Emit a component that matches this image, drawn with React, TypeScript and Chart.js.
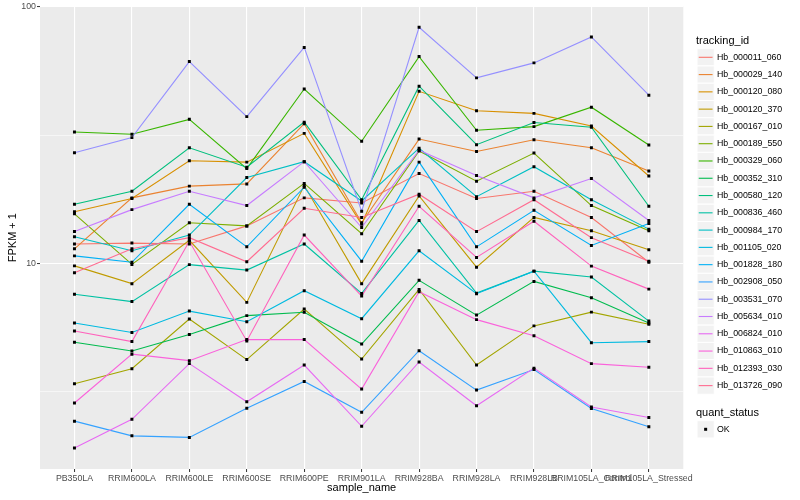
import React, { useEffect, useRef } from "react";
import { Chart, registerables } from "chart.js";

Chart.register(...registerables);

const FONT = '"Liberation Sans", Arial, Helvetica, sans-serif';

const categories = [
  "PB350LA",
  "RRIM600LA",
  "RRIM600LE",
  "RRIM600SE",
  "RRIM600PE",
  "RRIM901LA",
  "RRIM928BA",
  "RRIM928LA",
  "RRIM928LB",
  "RRIM105LA_Control",
  "RRIM105LA_Stressed",
];

const trackingIds = [
  "Hb_000011_060",
  "Hb_000029_140",
  "Hb_000120_080",
  "Hb_000120_370",
  "Hb_000167_010",
  "Hb_000189_550",
  "Hb_000329_060",
  "Hb_000352_310",
  "Hb_000580_120",
  "Hb_000836_460",
  "Hb_000984_170",
  "Hb_001105_020",
  "Hb_001828_180",
  "Hb_002908_050",
  "Hb_003531_070",
  "Hb_005634_010",
  "Hb_006824_010",
  "Hb_010863_010",
  "Hb_012393_030",
  "Hb_013726_090",
];

const seriesColors = [
  "#F8766D", "#EA8331", "#D89000", "#C09B00", "#A3A500",
  "#7CAE00", "#39B600", "#00BB4E", "#00BF7D", "#00C1A3",
  "#00BFC4", "#00BAE0", "#00B0F6", "#35A2FF", "#9590FF",
  "#C77CFF", "#E76BF3", "#FA62DB", "#FF62BC", "#FF6C91",
];

// FPKM + 1 per sample (order of categories)
const hb_000011_060 = [11.9, 12.0, 11.9, 14.0, 18.0, 17.2, 22.4, 17.9, 19.1, 15.1, 10.1];
const hb_000029_140 = [11.4, 18.0, 20.0, 20.4, 35.0, 14.4, 30.5, 27.3, 30.3, 28.2, 22.9];
const hb_000120_080 = [15.9, 17.9, 25.1, 24.8, 32.1, 14.2, 46.8, 39.3, 38.4, 34.3, 21.9];
const hb_000120_370 = [9.78, 8.34, 12.3, 7.05, 20.1, 8.34, 18.3, 9.67, 15.1, 13.4, 11.3];
const hb_000167_010 = [3.4, 3.89, 6.07, 4.22, 6.64, 4.24, 7.92, 4.02, 5.71, 6.46, 5.79];
const hb_000189_550 = [15.6, 9.91, 14.4, 14.0, 20.5, 13.05, 27.4, 20.9, 26.9, 16.8, 13.4];
const hb_000329_060 = [32.5, 31.85, 36.4, 23.4, 47.8, 29.9, 63.9, 33.0, 34.1, 40.6, 28.9];
const hb_000352_310 = [4.93, 4.56, 5.29, 6.26, 6.45, 4.85, 8.59, 6.29, 8.51, 7.35, 5.86];
const hb_000580_120 = [17.0, 19.1, 28.2, 23.7, 35.5, 17.7, 49.0, 29.0, 35.4, 33.9, 16.7];
const hb_000836_460 = [7.58, 7.1, 9.89, 9.42, 11.9, 7.64, 14.7, 7.66, 9.33, 8.85, 5.96];
const hb_000984_170 = [12.7, 11.2, 12.9, 21.6, 24.9, 17.5, 28.1, 18.2, 23.8, 17.7, 13.6];
const hb_001105_020 = [5.86, 5.38, 6.52, 5.93, 7.83, 6.09, 11.2, 7.62, 9.33, 4.91, 4.96];
const hb_001828_180 = [10.7, 10.1, 17.0, 11.6, 19.8, 10.2, 24.8, 11.6, 16.1, 11.75, 14.3];
const hb_002908_050 = [2.43, 2.13, 2.1, 2.73, 3.47, 2.63, 4.57, 3.21, 3.86, 2.72, 2.31];
const hb_003531_070 = [27.0, 30.9, 61.1, 37.3, 69.4, 15.98, 83.1, 52.8, 60.4, 76.2, 45.2];
const hb_005634_010 = [13.3, 16.2, 19.1, 16.8, 24.9, 13.8, 27.6, 22.0, 18.0, 21.4, 14.7];
const hb_006824_010 = [1.91, 2.47, 4.07, 2.89, 4.02, 2.32, 4.13, 2.79, 3.91, 2.76, 2.51];
const hb_010863_010 = [2.86, 4.43, 4.18, 5.05, 5.05, 3.24, 7.75, 6.04, 5.23, 4.07, 3.94];
const hb_012393_030 = [5.45, 4.96, 12.2, 4.99, 12.9, 7.46, 16.7, 10.55, 14.6, 9.76, 7.94];
const hb_013726_090 = [9.2, 11.4, 12.6, 10.15, 16.4, 15.1, 18.6, 13.3, 17.7, 12.6, 10.2];

const seriesValues = [
  hb_000011_060, hb_000029_140, hb_000120_080, hb_000120_370, hb_000167_010,
  hb_000189_550, hb_000329_060, hb_000352_310, hb_000580_120, hb_000836_460,
  hb_000984_170, hb_001105_020, hb_001828_180, hb_002908_050, hb_003531_070,
  hb_005634_010, hb_006824_010, hb_010863_010, hb_012393_030, hb_013726_090,
];

const yMajorTicks = [10, 100];
const yMinorTicks = [3.1623, 31.623];
const yMin = 1.582;
const yMax = 100.35;

const isMajor = (v: number) => yMajorTicks.includes(v);

export default function App() {
  const ref = useRef<HTMLCanvasElement>(null);

  useEffect(() => {
    const canvas = ref.current;
    if (!canvas) return;

    const lineSets = seriesValues.map((vals, i) => ({
      label: trackingIds[i],
      data: vals.map((v, j) => ({ x: j, y: v })),
      borderColor: seriesColors[i],
      backgroundColor: seriesColors[i],
      borderWidth: 1.1,
      pointRadius: 0,
      pointHoverRadius: 0,
      fill: false,
      tension: 0,
      order: 100 - i,
    }));

    const pointSet = {
      label: "OK",
      data: seriesValues.flatMap((vals) => vals.map((v, j) => ({ x: j, y: v }))),
      showLine: false,
      pointStyle: "rect",
      pointRadius: 2.1,
      pointHoverRadius: 2.1,
      pointBackgroundColor: "#000000",
      pointBorderColor: "#000000",
      pointBorderWidth: 0,
      borderWidth: 0,
      order: 0,
    };

    const panelBg = {
      id: "panelBg",
      beforeDraw(chart: any) {
        const { ctx, chartArea } = chart;
        ctx.save();
        ctx.fillStyle = "#EBEBEB";
        ctx.fillRect(chartArea.left, chartArea.top, chartArea.right - chartArea.left, chartArea.bottom - chartArea.top);
        ctx.restore();
      },
    };

    const decorations = {
      id: "decorations",
      afterDraw(chart: any) {
        const { ctx, chartArea } = chart;
        ctx.save();
        // axis titles
        ctx.fillStyle = "#000000";
        ctx.font = `11px ${FONT}`;
        ctx.textAlign = "center";
        ctx.textBaseline = "alphabetic";
        ctx.fillText("sample_name", (chartArea.left + chartArea.right) / 2, 491);
        ctx.save();
        ctx.translate(16, (chartArea.top + chartArea.bottom) / 2);
        ctx.rotate(-Math.PI / 2);
        ctx.fillText("FPKM + 1", 0, 0);
        ctx.restore();

        // legend: tracking_id
        const keyX = 697;
        const keySize = 17.28;
        const textX = 717;
        ctx.textAlign = "left";
        ctx.font = `11px ${FONT}`;
        ctx.fillText("tracking_id", 696, 44);
        ctx.font = `8.8px ${FONT}`;
        ctx.textBaseline = "middle";
        trackingIds.forEach((id, i) => {
          const cy = 57.3 + i * keySize;
          ctx.fillStyle = "#F2F2F2";
          ctx.fillRect(keyX, cy - keySize / 2, keySize, keySize);
          ctx.strokeStyle = "#FFFFFF";
          ctx.lineWidth = 1;
          ctx.strokeRect(keyX, cy - keySize / 2, keySize, keySize);
          ctx.strokeStyle = seriesColors[i];
          ctx.lineWidth = 1.1;
          ctx.beginPath();
          ctx.moveTo(keyX + keySize * 0.1, cy);
          ctx.lineTo(keyX + keySize * 0.9, cy);
          ctx.stroke();
          ctx.fillStyle = "#000000";
          ctx.fillText(id, textX, cy);
        });

        // legend: quant_status
        ctx.font = `11px ${FONT}`;
        ctx.textBaseline = "alphabetic";
        ctx.fillText("quant_status", 696, 415.5);
        const okY = 429.3;
        ctx.fillStyle = "#F2F2F2";
        ctx.fillRect(keyX, okY - keySize / 2, keySize, keySize);
        ctx.strokeStyle = "#FFFFFF";
        ctx.lineWidth = 1;
        ctx.strokeRect(keyX, okY - keySize / 2, keySize, keySize);
        ctx.fillStyle = "#000000";
        ctx.fillRect(keyX + keySize / 2 - 1.5, okY - 1.5, 3, 3);
        ctx.font = `8.8px ${FONT}`;
        ctx.textBaseline = "middle";
        ctx.fillText("OK", textX, okY);
        ctx.restore();
      },
    };

    const chart = new Chart(canvas, {
      type: "line",
      data: { datasets: [...lineSets, pointSet] as any },
      options: {
        animation: false,
        responsive: false,
        maintainAspectRatio: false,
        events: [],
        layout: { padding: { left: 0, top: 6, right: 116.7, bottom: 0 } },
        plugins: {
          legend: { display: false },
          tooltip: { enabled: false },
        },
        scales: {
          x: {
            type: "linear",
            min: -0.6,
            max: categories.length - 1 + 0.6,
            bounds: "data",
            afterBuildTicks: (s: any) => {
              s.ticks = categories.map((_, i) => ({ value: i }));
            },
            afterFit: (s: any) => {
              s.height = 31;
            },
            ticks: {
              autoSkip: false,
              maxRotation: 0,
              minRotation: 0,
              padding: 1,
              color: "#4D4D4D",
              font: { family: FONT, size: 8.8 },
              callback: (v: any) => categories[Math.round(Number(v))] ?? "",
            },
            grid: {
              color: "#FFFFFF",
              lineWidth: 1.1,
              tickLength: 3,
              tickColor: "#333333",
              tickWidth: 1,
            },
            border: { display: false },
          },
          y: {
            type: "logarithmic",
            min: yMin,
            max: yMax,
            bounds: "data",
            afterBuildTicks: (s: any) => {
              s.ticks = [...yMinorTicks, ...yMajorTicks]
                .sort((a, b) => a - b)
                .map((v) => ({ value: v }));
            },
            afterFit: (s: any) => {
              s.width = 40;
            },
            ticks: {
              autoSkip: false,
              padding: 1,
              color: "#4D4D4D",
              font: { family: FONT, size: 8.8 },
              callback: (v: any) => (isMajor(Number(v)) ? String(v) : ""),
            },
            grid: {
              color: "#FFFFFF",
              lineWidth: (c: any) => (c.tick && isMajor(c.tick.value) ? 1.1 : 0.55),
              tickLength: 3,
              tickColor: (c: any) => (c.tick && isMajor(c.tick.value) ? "#333333" : "rgba(0,0,0,0)"),
              tickWidth: 1,
            },
            border: { display: false },
          },
        },
      } as any,
      plugins: [panelBg, decorations],
    });

    return () => {
      chart.destroy();
    };
  }, []);

  return (
    <div style={{ position: "absolute", left: 0, top: 0, width: 800, height: 500, background: "#FFFFFF" }}>
      <canvas ref={ref} width={800} height={500} style={{ display: "block", width: 800, height: 500 }} />
    </div>
  );
}
